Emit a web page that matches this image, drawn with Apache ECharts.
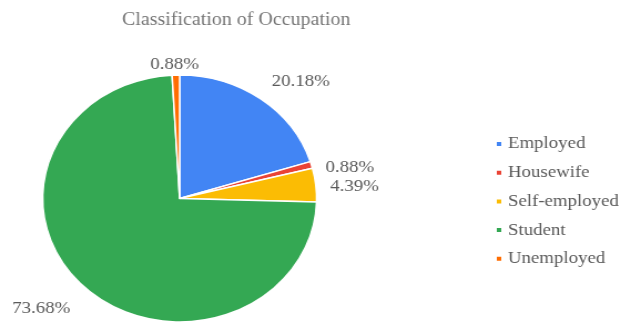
<!DOCTYPE html>
<html>
<head>
<meta charset="utf-8">
<script src="https://cdn.jsdelivr.net/npm/echarts@6/dist/echarts.min.js"></script>
<style>
  html, body { margin: 0; padding: 0; background: #fff; overflow: hidden; }
  /* chart is laid out narrower and stretched horizontally to the full window width */
  #chart { width: 559px; height: 325px; transform: scaleX(1.109); transform-origin: 0 0; }
</style>
</head>
<body>
<div id="chart"></div>
<script>
const titleText = 'Classification of Occupation';
const categories = ['Employed', 'Housewife', 'Self-employed', 'Student', 'Unemployed'];
const shares = [20.18, 0.88, 4.39, 73.68, 0.88];
const colors = ['#4285F4', '#EA4335', '#FBBC04', '#34A853', '#FF6D01'];

const serif = '"Liberation Serif", "DejaVu Serif", serif';
const chart = echarts.init(document.getElementById('chart'), null, { renderer: 'canvas' });

// small nudges for the outside percentage labels, by slice
const labelNudge = {
  0: [0, -11],
  1: [0, 5],
  2: [0, 2],
  3: [-2, 16],
  4: [26, -3]
};

chart.setOption({
  animation: false,
  color: colors,
  title: {
    text: titleText,
    left: 208,
    textAlign: 'center',
    top: 6,
    textStyle: { fontFamily: serif, fontSize: 18, fontWeight: 'normal', color: '#757575' }
  },
  legend: {
    orient: 'vertical',
    left: 441,
    top: 130,
    icon: 'rect',
    itemWidth: 6,
    itemHeight: 6,
    itemGap: 10.7,
    data: categories,
    textStyle: { fontFamily: serif, fontSize: 17, color: '#5a5a5a', lineHeight: 18 }
  },
  series: [{
    type: 'pie',
    center: [162, 198.5],
    radius: 123.5,
    startAngle: 90,
    clockwise: true,
    avoidLabelOverlap: true,
    itemStyle: { borderColor: '#ffffff', borderWidth: 1.5 },
    label: {
      show: true,
      position: 'outside',
      formatter: p => p.value.toFixed(2) + '%',
      fontFamily: serif,
      fontSize: 17,
      color: '#5a5a5a'
    },
    labelLine: { show: false, length: 8, length2: 0 },
    labelLayout: p => {
      const n = labelNudge[p.dataIndex] || [0, 0];
      return { dx: n[0], dy: n[1] };
    },
    emphasis: { disabled: true },
    data: categories.map((name, i) => ({ name, value: shares[i] }))
  }]
});
</script>
</body>
</html>
